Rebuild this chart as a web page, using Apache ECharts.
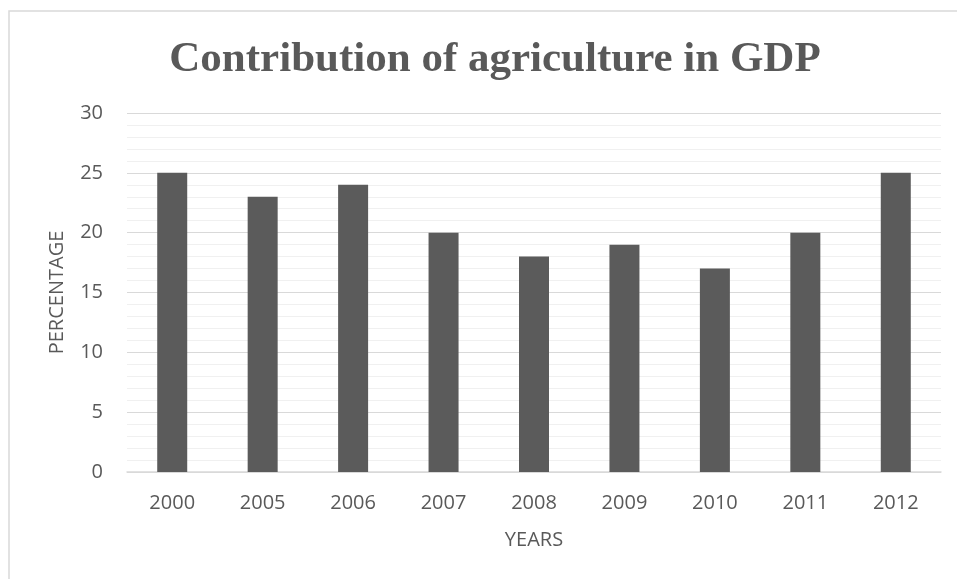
<!DOCTYPE html>
<html><head><meta charset="utf-8">
<script src="https://cdn.jsdelivr.net/npm/echarts@6/dist/echarts.min.js"></script>
<style>html,body{margin:0;padding:0;background:#fff}#c{width:957px;height:579px}</style>
</head><body><div id="c"></div>
<script>
const categories = ['2000','2005','2006','2007','2008','2009','2010','2011','2012'];
const values = [25,23,24,20,18,19,17,20,25];
const yTicks = [0,5,10,15,20,25,30];

const chart = echarts.init(document.getElementById('c'));
chart.setOption({
  animation: false,
  graphic: [{
    type: 'rect', shape: {x: 9, y: 11, width: 1000, height: 1000},
    style: {fill: 'none', stroke: '#d9d9d9', lineWidth: 1.5}, silent: true
  }],
  title: {
    text: 'Contribution of agriculture in GDP',
    left: 490, top: 33, textAlign: 'center',
    textStyle: {fontFamily: 'Liberation Serif', fontWeight: 'bold', fontSize: 43, color: '#595959'}
  },
  grid: {left: 127, right: 16, top: 113, bottom: 107, containLabel: false},
  xAxis: {
    type: 'category', data: categories,
    name: 'YEARS', nameLocation: 'middle', nameGap: 58,
    nameTextStyle: {fontFamily: 'Open Sans', fontSize: 20, color: '#595959'},
    axisLine: {lineStyle: {color: '#d9d9d9', width: 1.5}},
    axisTick: {show: false},
    axisLabel: {fontFamily: 'Open Sans', fontSize: 20, color: '#595959', margin: 21}
  },
  yAxis: {
    type: 'value', min: yTicks[0], max: yTicks[yTicks.length-1], interval: 5,
    name: 'PERCENTAGE', nameLocation: 'middle', nameGap: 60, nameRotate: 90,
    nameTextStyle: {fontFamily: 'Open Sans', fontSize: 20, color: '#595959'},
    axisLine: {show: false}, axisTick: {show: false},
    axisLabel: {fontFamily: 'Open Sans', fontSize: 20, color: '#595959', margin: 24},
    splitLine: {lineStyle: {color: '#d9d9d9', width: 1}},
    minorTick: {show: false, splitNumber: 5},
    minorSplitLine: {show: true, lineStyle: {color: '#f0f0f0', width: 1}}
  },
  series: [{
    type: 'bar', data: values, barWidth: 30,
    itemStyle: {color: '#5b5b5b'}
  }]
});
</script></body></html>
